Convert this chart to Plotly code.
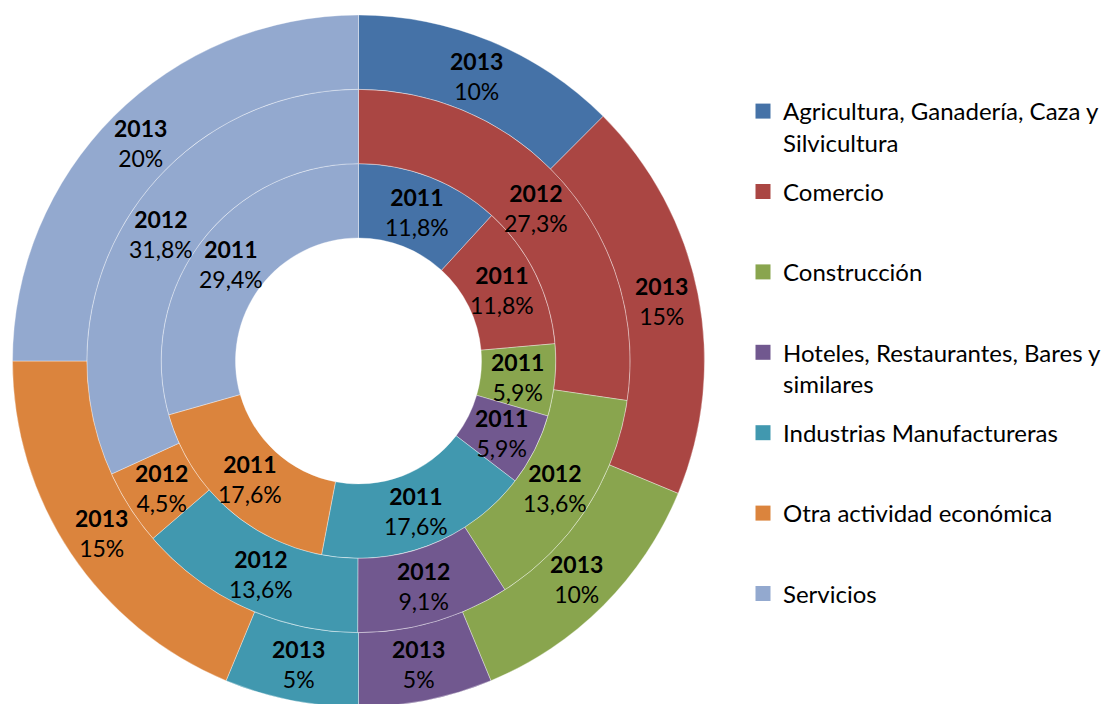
import math
import plotly.graph_objects as go

# ---------------- data ----------------
categories = [
    "Agricultura, Ganadería, Caza y<br>Silvicultura",
    "Comercio",
    "Construcción",
    "Hoteles, Restaurantes, Bares y<br>similares",
    "Industrias Manufactureras",
    "Otra actividad económica",
    "Servicios",
]
years = ["2011", "2012", "2013"]
values_2011 = [11.8, 11.8, 5.9, 5.9, 17.6, 17.6, 29.4]
values_2012 = [0, 27.3, 13.6, 9.1, 13.6, 4.5, 31.8]
values_2013 = [10, 15, 10, 5, 5, 15, 20]
series = [values_2011, values_2012, values_2013]

colors = ["#4572A7", "#AA4643", "#89A54E", "#71588F", "#4198AF", "#DB843D", "#93A9CF"]

# ---------------- geometry (figure pixels) ----------------
W, H = 1112, 704
CX, CY_TOP = 350.5, 353.0      # center of the rings
R_OUT = 346.0
R_HOLE = 123.0
RING_W = (R_OUT - R_HOLE) / 3.0
FONT = "Lato, 'Open Sans', sans-serif"


def fmt(v):
    return ("%g" % v).replace(".", ",")


def legend_label(name, lines=2):
    n = name.count("<br>") + 1
    return name + "<br> " * (lines - n)


fig = go.Figure()
annotations = []
cy = H - CY_TOP
for i, (year, vals) in enumerate(zip(years, series)):
    r_in = R_HOLE + RING_W * i
    r_out = R_HOLE + RING_W * (i + 1)
    fig.add_trace(go.Pie(
        labels=categories,
        values=vals,
        textinfo="none",
        sort=False,
        direction="clockwise",
        rotation=0,
        hole=r_in / r_out,
        marker=dict(colors=colors, line=dict(color="rgba(255,255,255,0.6)", width=0.6)),
        domain=dict(x=[(CX - r_out) / W, (CX + r_out) / W],
                    y=[max(0.0, (cy - r_out) / H), min(1.0, (cy + r_out) / H)]),
        name=year,
        showlegend=False,
        hoverinfo="label+value+name",
    ))
    # data labels: centred on the slice bisector, half way across the ring
    total = float(sum(vals))
    r_mid = (r_in + r_out) / 2.0
    cum = 0.0
    for v in vals:
        if v > 0:
            ang = 2 * math.pi * (cum + v / 2.0) / total
            annotations.append(dict(
                x=(CX + r_mid * math.sin(ang)) / W,
                y=(cy + r_mid * math.cos(ang)) / H,
                xref="paper", yref="paper",
                xanchor="center", yanchor="middle",
                text=f"<b>{year}</b><br>{fmt(v)}%",
                showarrow=False,
                font=dict(family=FONT, size=23, color="black"),
            ))
        cum += v

# legend entries (one per category, same colours as the slices)
for i, (cat, col) in enumerate(zip(categories, colors)):
    fig.add_trace(go.Scatter(
        x=[None], y=[None], mode="markers",
        marker=dict(symbol="square", size=15, color=col),
        name=legend_label(cat),
        legendgroup=f"g{i}",
        showlegend=True,
        hoverinfo="skip",
    ))

fig.update_layout(
    width=W,
    height=H,
    margin=dict(l=0, r=0, t=0, b=0),
    paper_bgcolor="white",
    plot_bgcolor="white",
    xaxis=dict(visible=False),
    yaxis=dict(visible=False),
    annotations=annotations,
    legend=dict(
        x=735 / W,
        xanchor="left",
        y=1 - 81 / H,
        yanchor="top",
        font=dict(family=FONT, size=24, color="black"),
        valign="top",
        bgcolor="rgba(0,0,0,0)",
        borderwidth=0,
        tracegroupgap=15,
        traceorder="grouped",
    ),
)

fig.write_html("out.html")
